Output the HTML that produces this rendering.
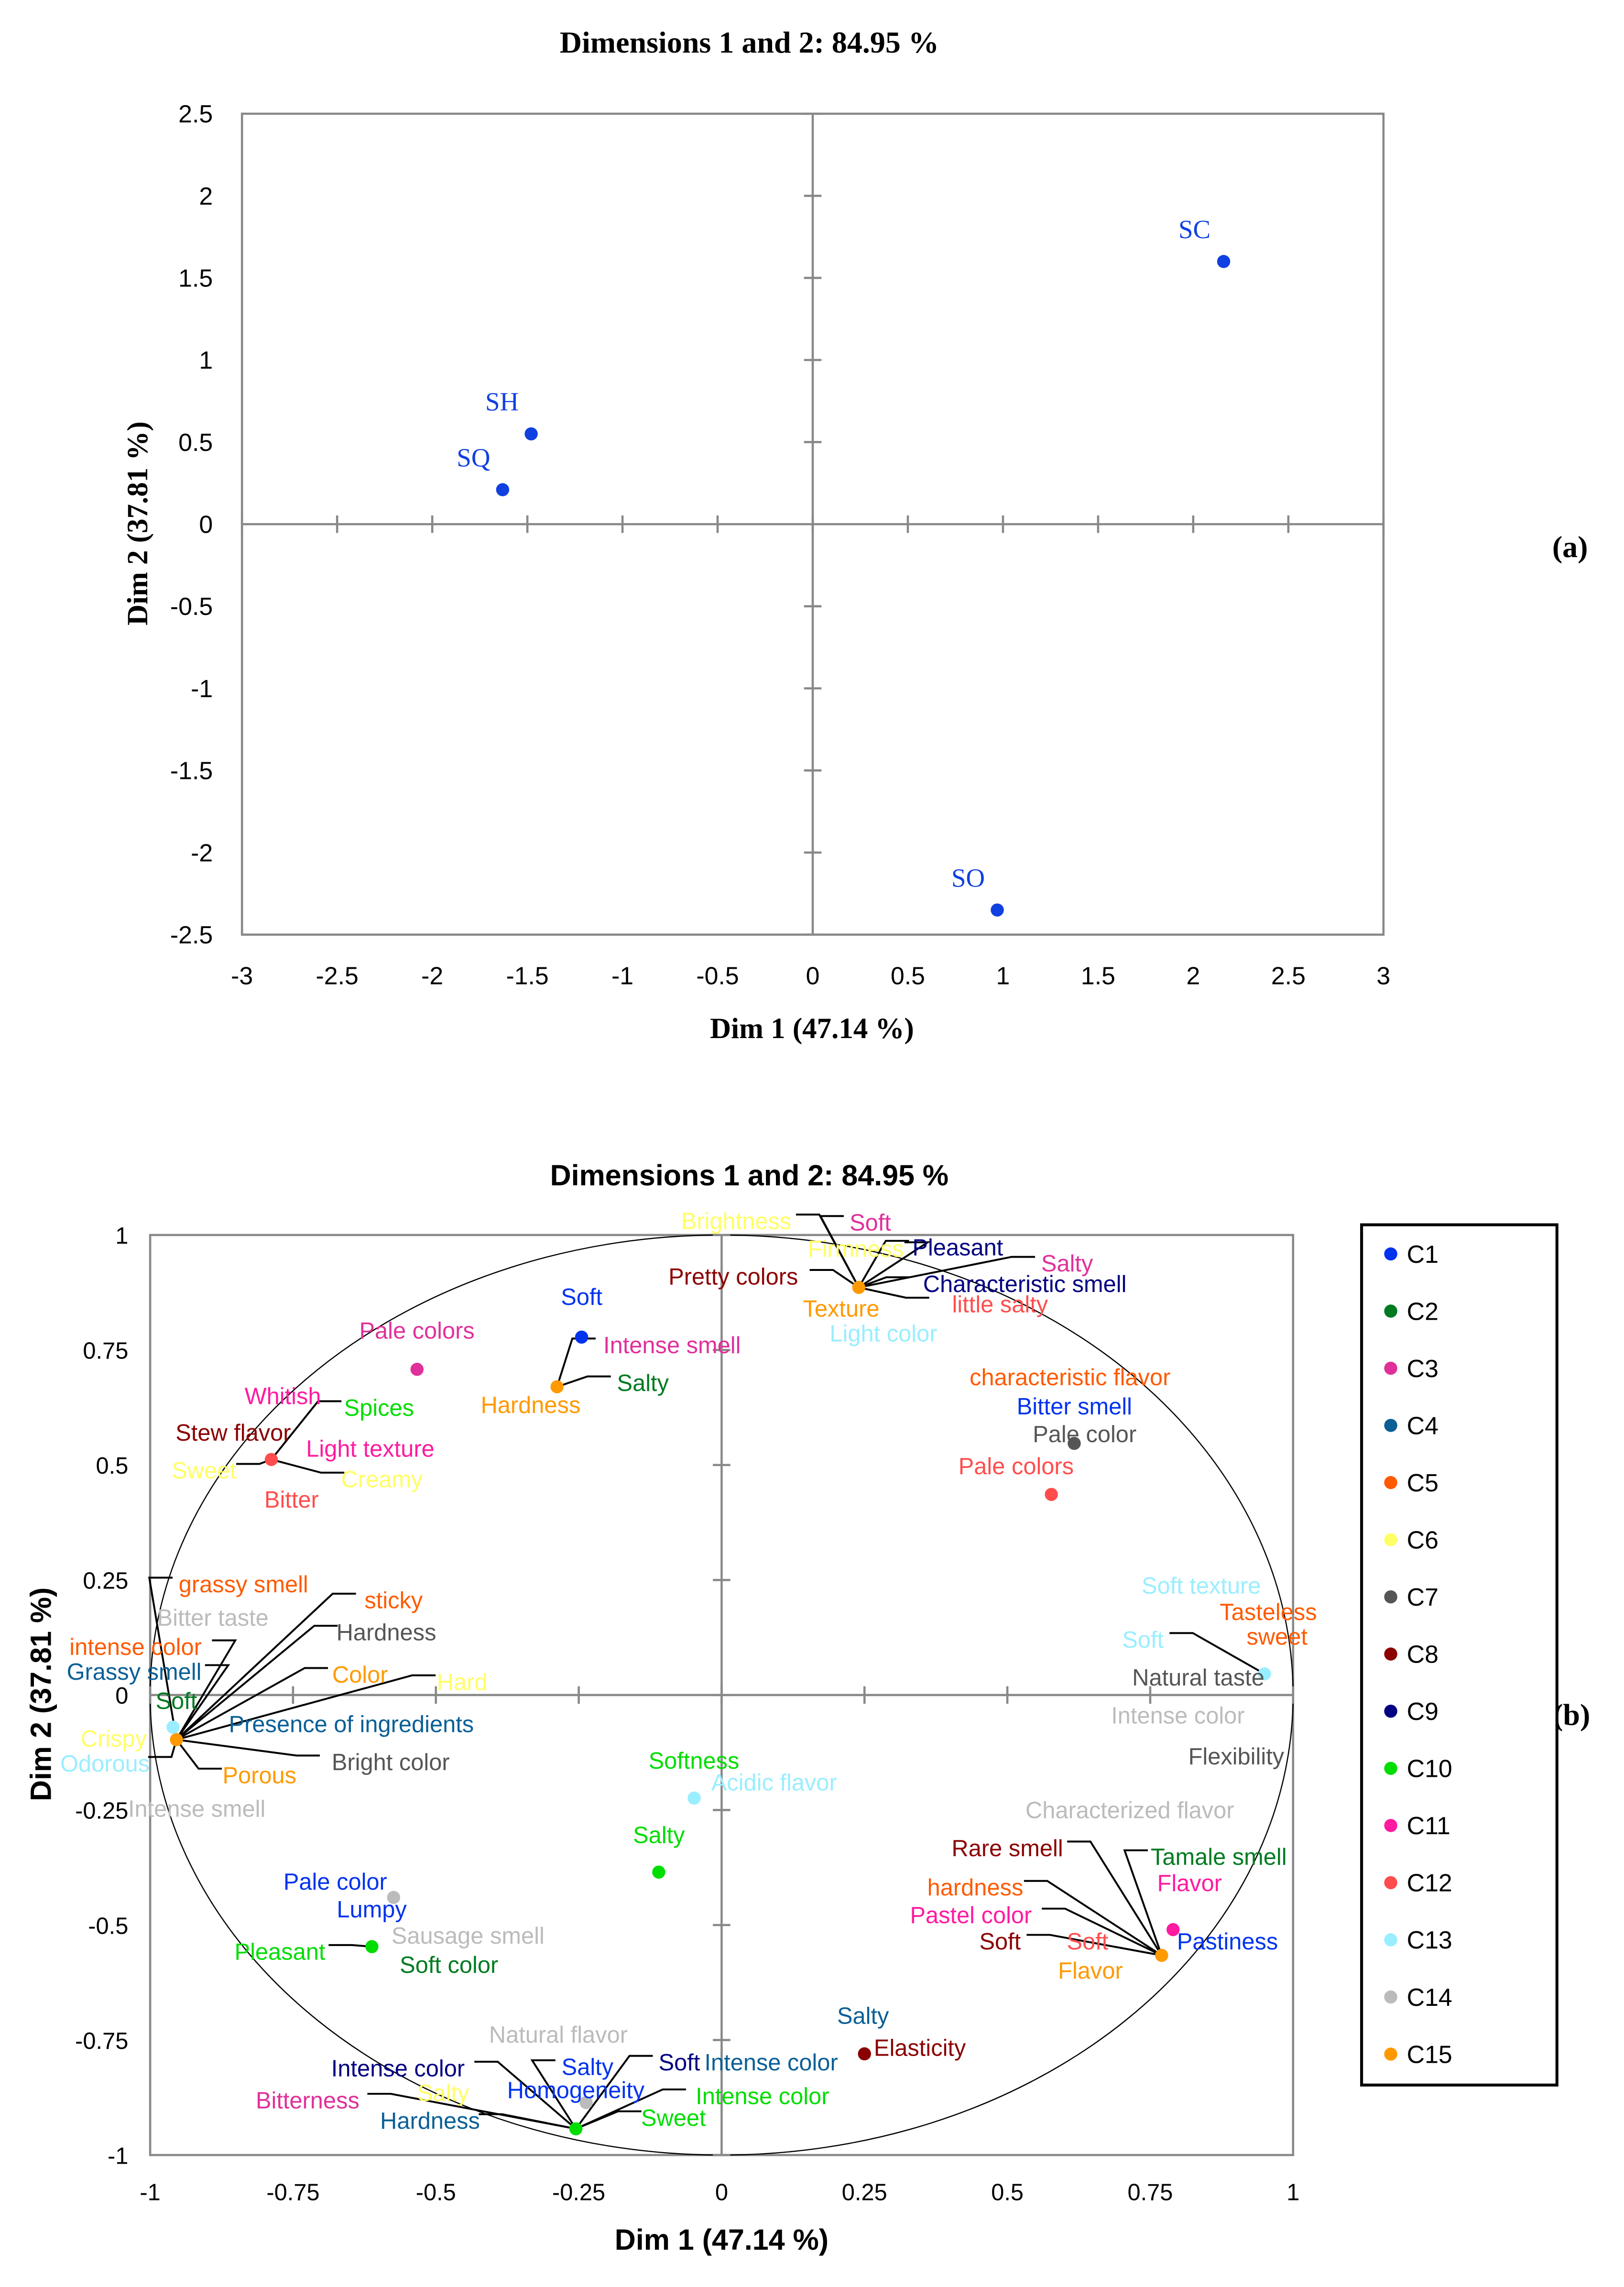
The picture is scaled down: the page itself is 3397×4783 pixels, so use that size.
<!DOCTYPE html>
<html><head><meta charset="utf-8">
<style>
html,body{margin:0;padding:0;background:#fff;}
svg{display:block;}
.ser{font-family:"Liberation Serif",serif;}
.san{font-family:"Liberation Sans","DejaVu Sans",sans-serif;}
</style></head>
<body>
<svg id="root" xmlns="http://www.w3.org/2000/svg" width="3397" height="4783" viewBox="0 0 1114 1568.5" preserveAspectRatio="none">
<rect width="1114" height="1569" fill="#fff"/>
<g id="ga"></g>
<g id="gb"></g>
</svg>
<script>
// ---------- Chart (a) data ----------
const aNames = ["SC","SH","SQ","SO"];
const aX = [2.16,-1.48,-1.63,0.97];
const aY = [1.60,0.55,0.21,-2.35];
const aXTicks = [-3,-2.5,-2,-1.5,-1,-0.5,0,0.5,1,1.5,2,2.5,3];
const aYTicks = [2.5,2,1.5,1,0.5,0,-0.5,-1,-1.5,-2,-2.5];

// ---------- Chart (b) data ----------
const bClasses = ["C1","C2","C3","C4","C5","C6","C7","C8","C9","C10","C11","C12","C13","C14","C15"];
const bColors = ["#0033ee","#007a20","#e0309a","#0a5f96","#ff5a00","#ffff66","#555555","#8b0000","#000080","#00dd00","#ff1aa0","#ff4d4d","#99eeff","#bbbbbb","#ff9900"];
const bPtX = [-0.245,-0.533,-0.288,0.240,0.617,0.577,-0.788,-0.954,-0.960,-0.048,-0.110,-0.574,-0.612,0.950,0.790,0.770,0.250,-0.255,-0.237];
const bPtY = [0.778,0.708,0.670,0.886,0.547,0.436,0.512,-0.097,-0.070,-0.224,-0.385,-0.440,-0.547,0.046,-0.510,-0.566,-0.780,-0.943,-0.886];
const bPtC = [0,2,14,14,6,11,11,14,12,12,9,13,9,12,10,14,7,9,13];
const bXTicks = [-1,-0.75,-0.5,-0.25,0,0.25,0.5,0.75,1];
const bYTicks = [1,0.75,0.5,0.25,0,-0.25,-0.5,-0.75,-1];
// labels: text, class index, label x, label y (px), leader point index (-1 none)
const bLabels = [
["Brightness",5,505,838,3],["Soft",2,597,839,3],["Firmness",5,587,857,3],["Pleasant",8,657,856,3],["Salty",2,732,867,3],
["Pretty colors",7,503,876,3],["Characteristic smell",8,703,881,3],["little salty",11,686,895,3],["Texture",14,577,898,-1],["Light color",12,606,915,-1],
["Soft",0,399,890,-1],["Intense smell",2,461,923,2],["Salty",1,441,949,2],["Hardness",14,364,964,-1],["Pale colors",2,286,913,-1],
["characteristic flavor",4,734,945,-1],["Bitter smell",0,737,965,-1],["Pale color",6,744,984,-1],["Pale colors",11,697,1006,-1],
["Whitish",10,194,958,-1],["Spices",9,260,966,6],["Stew flavor",7,160,983,-1],["Light texture",10,254,994,-1],["Sweet",5,140,1009,6],["Creamy",5,262,1015,6],["Bitter",11,200,1029,-1],
["grassy smell",4,167,1087,7],["sticky",4,270,1098,7],["Bitter taste",13,146,1110,-1],["Hardness",6,265,1120,7],["intense color",4,93,1130,7],["Grassy smell",3,92,1147,7],
["Color",14,247,1149,7],["Hard",5,317,1154,7],["Soft",1,121,1167,-1],["Presence of ingredients",3,241,1183,-1],["Crispy",5,78,1193,-1],["Bright color",6,268,1209,7],
["Odorous",12,72,1210,7],["Porous",14,178,1218,7],["Intense smell",13,135,1241,-1],
["Softness",9,476,1208,-1],["Acidic flavor",12,531,1223,-1],["Salty",9,452,1259,-1],["Pale color",0,230,1291,-1],["Lumpy",0,255,1310,-1],
["Sausage smell",13,321,1328,-1],["Pleasant",9,192,1339,12],["Soft color",1,308,1348,-1],
["Soft texture",12,824,1088,-1],["Tasteless",4,870,1106,-1],["Soft",12,784,1125,13],["sweet",4,876,1123,-1],["Natural taste",6,822,1151,-1],["Intense color",13,808,1177,-1],["Flexibility",6,848,1205,-1],
["Characterized flavor",13,775,1242,-1],["Rare smell",7,691,1268,15],["Tamale smell",1,836,1274,15],["hardness",4,669,1295,15],["Flavor",10,816,1292,-1],["Pastel color",10,666,1314,15],
["Soft",7,686,1332,15],["Soft",11,746,1332,-1],["Pastiness",0,842,1332,-1],["Flavor",14,748,1352,-1],
["Salty",3,592,1383,-1],["Elasticity",7,631,1405,-1],
["Natural flavor",13,383,1396,-1],["Intense color",8,273,1419,17],["Salty",0,403,1418,17],["Soft",8,466,1415,17],["Intense color",3,529,1415,-1],
["Bitterness",2,211,1441,17],["Salty",5,304,1436,-1],["Homogeneity",0,395,1434,-1],["Intense color",9,523,1438,17],["Hardness",3,295,1455,17],["Sweet",9,462,1453,17]
];

const NS="http://www.w3.org/2000/svg";
function mk(parent,tag,attrs,text){const e=document.createElementNS(NS,tag);for(const k in attrs)e.setAttribute(k,attrs[k]);if(text!==undefined)e.textContent=text;parent.appendChild(e);return e;}

// ---------- draw (a) ----------
const ga=document.getElementById('ga');
const axL=166,axR=949,ayT=78,ayB=641;
const ax=v=>axL+(v+3)/6*(axR-axL);
const ay=v=>ayB-(v+2.5)/5*(ayB-ayT);
let e;
e=mk(ga,'rect',{x:axL,y:ayT,width:axR-axL,height:ayB-ayT,fill:'none',stroke:'#888','stroke-width':1.5});


e=mk(ga,'line',{x1:axL,x2:axR,y1:ay(0),y2:ay(0),stroke:'#888','stroke-width':1.5});


e=mk(ga,'line',{x1:ax(0),x2:ax(0),y1:ayT,y2:ayB,stroke:'#888','stroke-width':1.5});


aXTicks.forEach(t=>{
  mk(ga,'line',{x1:ax(t),x2:ax(t),y1:ay(0)-6,y2:ay(0)+6,stroke:'#888','stroke-width':1.5});
  e=mk(ga,'text',{x:ax(t),y:675,'text-anchor':'middle','font-size':17,class:'san',fill:'#000'},String(t));
  
  
});
aYTicks.forEach(t=>{
  mk(ga,'line',{x1:ax(0)-6,x2:ax(0)+6,y1:ay(t),y2:ay(t),stroke:'#888','stroke-width':1.5});
  e=mk(ga,'text',{x:146,y:ay(t)+6,'text-anchor':'end','font-size':17,class:'san',fill:'#000'},String(t));
  
  
});
aNames.forEach((n,i)=>{
  e=mk(ga,'circle',{cx:ax(aX[i]),cy:ay(aY[i]),r:4.5,fill:'#1040e0'});
  
  
  e=mk(ga,'text',{x:ax(aX[i])-20,y:ay(aY[i])-16,'text-anchor':'middle','font-size':18,class:'ser',fill:'#1040e0'},n);
  
  
});
e=mk(ga,'text',{x:514,y:36,'text-anchor':'middle','font-size':21,'font-weight':'bold',class:'ser'},'Dimensions 1 and 2: 84.95 %');


e=mk(ga,'text',{x:557,y:712,'text-anchor':'middle','font-size':20,'font-weight':'bold',class:'ser'},'Dim 1 (47.14 %)');


e=mk(ga,'text',{x:0,y:0,'text-anchor':'middle','font-size':20,'font-weight':'bold',class:'ser',transform:'translate(101,359) rotate(-90)'},'Dim 2 (37.81 %)');


e=mk(ga,'text',{x:1077,y:382,'text-anchor':'middle','font-size':21,'font-weight':'bold',class:'ser'},'(a)');



// ---------- draw (b) ----------
const gb=document.getElementById('gb');
const bxL=103,bxR=887,byT=847,byB=1478;
const bx=v=>bxL+(v+1)/2*(bxR-bxL);
const by=v=>byB-(v+1)/2*(byB-byT);
e=mk(gb,'rect',{x:bxL,y:byT,width:bxR-bxL,height:byB-byT,fill:'none',stroke:'#888','stroke-width':1.5});


e=mk(gb,'line',{x1:bxL,x2:bxR,y1:by(0),y2:by(0),stroke:'#888','stroke-width':1.5});


e=mk(gb,'line',{x1:bx(0),x2:bx(0),y1:byT,y2:byB,stroke:'#888','stroke-width':1.5});


e=mk(gb,'ellipse',{cx:bx(0),cy:by(0),rx:(bxR-bxL)/2,ry:(byB-byT)/2,fill:'none',stroke:'#000','stroke-width':0.8});


bXTicks.forEach(t=>{
  mk(gb,'line',{x1:bx(t),x2:bx(t),y1:by(0)-6,y2:by(0)+6,stroke:'#888','stroke-width':1.5});
  e=mk(gb,'text',{x:bx(t),y:1509,'text-anchor':'middle','font-size':16,class:'san'},String(t));
  
  
});
bYTicks.forEach(t=>{
  mk(gb,'line',{x1:bx(0)-6,x2:bx(0)+6,y1:by(t),y2:by(t),stroke:'#888','stroke-width':1.5});
  e=mk(gb,'text',{x:88,y:by(t)+6,'text-anchor':'end','font-size':16,class:'san'},String(t));
  
  
});
// leaders
bLabels.forEach(L=>{
  if(L[4]<0)return;
  const px=bx(bPtX[L[4]]),py=by(bPtY[L[4]]);
  const w=L[0].length*7.6;
  const right=L[2]>px;
  const ex=right?L[2]-w/2-3:L[2]+w/2+3;
  const ey=L[3]-5;
  const mx=right?ex-16:ex+16;
  e=mk(gb,'polyline',{points:px+','+py+' '+mx+','+ey+' '+ex+','+ey,fill:'none',stroke:'#000','stroke-width':1.3});
  
  
});
bPtX.forEach((v,i)=>{
  e=mk(gb,'circle',{cx:bx(v),cy:by(bPtY[i]),r:4.5,fill:bColors[bPtC[i]]});
  
  
});
bLabels.forEach(L=>{
  e=mk(gb,'text',{x:L[2],y:L[3]+5,'text-anchor':'middle','font-size':16,class:'san',fill:bColors[L[1]]},L[0]);
  
  
});
e=mk(gb,'text',{x:514,y:813,'text-anchor':'middle','font-size':20,'font-weight':'bold',class:'san'},'Dimensions 1 and 2: 84.95 %');


e=mk(gb,'text',{x:495,y:1543,'text-anchor':'middle','font-size':20,'font-weight':'bold',class:'san'},'Dim 1 (47.14 %)');


e=mk(gb,'text',{x:0,y:0,'text-anchor':'middle','font-size':20,'font-weight':'bold',class:'san',transform:'translate(35,1162) rotate(-90)'},'Dim 2 (37.81 %)');


e=mk(gb,'text',{x:1078,y:1183,'text-anchor':'middle','font-size':21,'font-weight':'bold',class:'ser'},'(b)');


// legend
const lg=mk(gb,'g',{});


mk(lg,'rect',{x:934,y:840,width:134,height:590,fill:'#fff',stroke:'#000','stroke-width':2});
bClasses.forEach((c,i)=>{
  const yy=860+i*39.2;
  const it=mk(lg,'g',{});
  
  
  mk(it,'circle',{cx:954,cy:yy,r:4.5,fill:bColors[i]});
  mk(it,'text',{x:965,y:yy+6,'font-size':17,class:'san'},c);
});
</script>
</body></html>
